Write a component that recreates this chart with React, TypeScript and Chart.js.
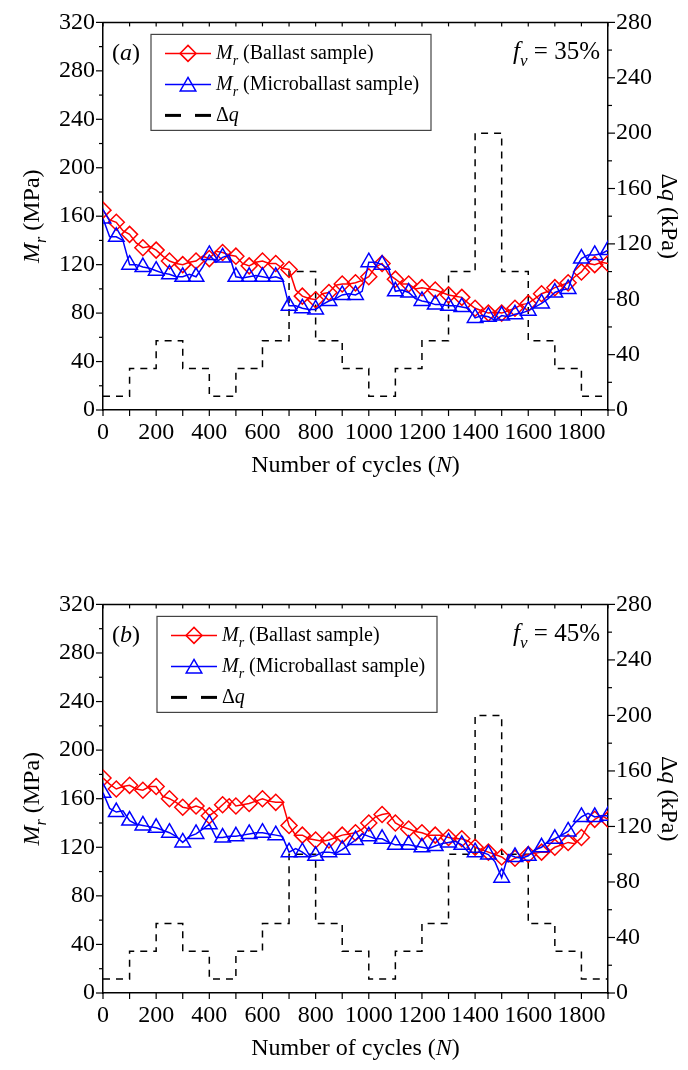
import React, { useEffect, useRef } from "react";
import { Chart, registerables } from "chart.js";

Chart.register(...registerables);

const FONT = "'Liberation Serif', 'Times New Roman', Times, serif";

// ---------- data ----------
const cycles = [
  0, 25, 50, 75, 100, 125, 150, 175, 200, 225,
  250, 275, 300, 325, 350, 375, 400, 425, 450, 475,
  500, 525, 550, 575, 600, 625, 650, 675, 700, 725,
  750, 775, 800, 825, 850, 875, 900, 925, 950, 975,
  1000, 1025, 1050, 1075, 1100, 1125, 1150, 1175, 1200, 1225,
  1250, 1275, 1300, 1325, 1350, 1375, 1400, 1425, 1450, 1475,
  1500, 1525, 1550, 1575, 1600, 1625, 1650, 1675, 1700, 1725,
  1750, 1775, 1800, 1825, 1850, 1875, 1900,
];

const ballastA = [
  165, 157, 155, 148, 145, 138, 134, 135, 132, 127,
  123, 121, 120, 122, 123, 127, 125, 131, 130, 128,
  127, 121, 119, 122, 123, 121, 121, 117, 116, 99,
  94, 92, 91, 96, 97, 103, 104, 104, 105, 107,
  110, 118, 121, 112, 108, 104, 104, 100, 101, 100,
  99, 97, 95, 94, 93, 88, 84, 82, 80, 81,
  80, 82, 84, 87, 88, 92, 96, 98, 101, 103,
  105, 110, 114, 121, 120, 122, 121,
];

const microA = [
  158, 143, 143, 140, 120, 120, 118, 117, 115, 113,
  112, 110, 110, 112, 110, 118, 128, 122, 126, 128,
  110, 109, 110, 111, 110, 109, 110, 108, 86, 86,
  84, 83, 83, 87, 90, 92, 95, 96, 95, 98,
  122, 122, 120, 116, 98, 99, 97, 92, 90, 89,
  87, 87, 86, 86, 85, 84, 76, 78, 77, 74,
  78, 77, 79, 80, 82, 85, 88, 92, 97, 99,
  100, 116, 125, 128, 128, 129, 132,
];

const ballastB = [
  177, 172, 168, 170, 171, 168, 167, 170, 170, 162,
  160, 157, 153, 152, 154, 152, 146, 150, 155, 160,
  154, 155, 156, 158, 160, 158, 157, 157, 138, 130,
  130, 127, 126, 125, 126, 128, 130, 131, 132, 135,
  140, 145, 147, 148, 140, 137, 135, 133, 132, 130,
  130, 130, 128, 127, 127, 125, 120, 118, 116, 114,
  112, 108, 111, 113, 114, 115, 116, 116, 120, 122,
  124, 123, 128, 138, 143, 146, 143,
];

const microB = [
  165, 152, 149, 150, 142, 139, 138, 137, 136, 134,
  132, 129, 124, 129, 131, 135, 139, 128, 128, 129,
  129, 130, 131, 132, 132, 131, 130, 129, 116, 119,
  116, 112, 113, 116, 116, 115, 118, 122, 126, 131,
  129, 127, 127, 124, 122, 122, 122, 121, 120, 119,
  121, 123, 124, 125, 122, 116, 116, 116, 114, 108,
  95, 114, 112, 111, 113, 118, 120, 125, 127, 130,
  133, 140, 145, 148, 145, 146, 146,
];

const dqCycles = [0, 100, 200, 300, 400, 500, 600, 700, 800, 900, 1000, 1100, 1200, 1300, 1400, 1500, 1600, 1700, 1800, 1900];
const dqValues = [10, 30, 50, 30, 10, 30, 50, 100, 50, 30, 10, 30, 50, 100, 200, 100, 50, 30, 10, 10];

const xTickLabels = [0, 200, 400, 600, 800, 1000, 1200, 1400, 1600, 1800];
const leftTicks = [0, 40, 80, 120, 160, 200, 240, 280, 320];
const rightTicks = [0, 40, 80, 120, 160, 200, 240, 280];

// ---------- drawing helpers ----------
type Seg = { t: string; i?: boolean; sub?: boolean };

function segFont(s: Seg, size: number) {
  const sz = s.sub ? Math.round(size * 0.68) : size;
  return `${s.i ? "italic " : ""}${sz}px ${FONT}`;
}

function richWidth(ctx: CanvasRenderingContext2D, segs: Seg[], size: number) {
  let w = 0;
  for (const s of segs) {
    ctx.font = segFont(s, size);
    w += ctx.measureText(s.t).width;
  }
  return w;
}

function drawRich(
  ctx: CanvasRenderingContext2D,
  segs: Seg[],
  x: number,
  y: number,
  size: number,
  align: "left" | "center" | "right"
) {
  const total = richWidth(ctx, segs, size);
  let cx = align === "center" ? x - total / 2 : align === "right" ? x - total : x;
  ctx.textAlign = "left";
  ctx.textBaseline = "middle";
  ctx.fillStyle = "#000";
  for (const s of segs) {
    ctx.font = segFont(s, size);
    ctx.fillText(s.t, cx, s.sub ? y + size * 0.38 : y);
    cx += ctx.measureText(s.t).width;
  }
}

function line(ctx: CanvasRenderingContext2D, x1: number, y1: number, x2: number, y2: number) {
  ctx.beginPath();
  ctx.moveTo(x1, y1);
  ctx.lineTo(x2, y2);
  ctx.stroke();
}

function diamond(ctx: CanvasRenderingContext2D, x: number, y: number, r: number) {
  ctx.beginPath();
  ctx.moveTo(x, y - r);
  ctx.lineTo(x + r, y);
  ctx.lineTo(x, y + r);
  ctx.lineTo(x - r, y);
  ctx.closePath();
  ctx.stroke();
}

function triangle(ctx: CanvasRenderingContext2D, x: number, y: number, r: number) {
  ctx.beginPath();
  let a = 0;
  ctx.moveTo(x + Math.sin(a) * r, y - Math.cos(a) * r);
  a += (2 * Math.PI) / 3;
  ctx.lineTo(x + Math.sin(a) * r, y - Math.cos(a) * r);
  a += (2 * Math.PI) / 3;
  ctx.lineTo(x + Math.sin(a) * r, y - Math.cos(a) * r);
  ctx.closePath();
  ctx.stroke();
}

type PanelMeta = {
  tag: string;
  fv: string;
  legendX: number;
};

function makeDecor(meta: PanelMeta) {
  return {
    id: "decor",
    afterDraw(chart: any) {
      const { ctx, chartArea: a, scales } = chart;
      const xs = scales.x;
      const ys = scales.y;
      const y2s = scales.y2;
      ctx.save();
      ctx.strokeStyle = "#000";
      ctx.setLineDash([]);
      // top border
      ctx.lineWidth = 1.5;
      line(ctx, a.left, a.top, a.right, a.top);
      // ticks
      ctx.lineWidth = 1.2;
      for (let v = 0; v <= 1900; v += 100) {
        const px = xs.getPixelForValue(v);
        line(ctx, px, a.bottom, px, a.bottom + 6);
        line(ctx, px, a.top, px, a.top + 4);
      }
      for (let v = 0; v <= 320; v += 20) {
        const py = ys.getPixelForValue(v);
        line(ctx, a.left - (v % 40 === 0 ? 7 : 4), py, a.left, py);
      }
      for (let v = 0; v <= 280; v += 20) {
        const py = y2s.getPixelForValue(v);
        line(ctx, a.right, py, a.right + (v % 40 === 0 ? 7 : 4), py);
      }

      // axis titles
      const midY = (a.top + a.bottom) / 2;
      drawRich(
        ctx,
        [{ t: "Number of cycles (" }, { t: "N", i: true }, { t: ")" }],
        (a.left + a.right) / 2,
        a.bottom + 56,
        24,
        "center"
      );
      ctx.save();
      ctx.translate(33, midY);
      ctx.rotate(-Math.PI / 2);
      drawRich(ctx, [{ t: "M", i: true }, { t: "r", i: true, sub: true }, { t: " (MPa)" }], 0, 0, 24, "center");
      ctx.restore();
      ctx.save();
      ctx.translate(668, midY);
      ctx.rotate(Math.PI / 2);
      drawRich(ctx, [{ t: "Δ" }, { t: "q", i: true }, { t: " (kPa)" }], 0, 0, 24, "center");
      ctx.restore();

      // panel tag and f_v
      const r1 = a.top + 31;
      const r2 = a.top + 62;
      const r3 = a.top + 93;
      drawRich(ctx, [{ t: "(" }, { t: meta.tag, i: true }, { t: ")" }], 112, r1, 24, "left");
      drawRich(
        ctx,
        [{ t: "f", i: true }, { t: "v", i: true, sub: true }, { t: " = " + meta.fv }],
        a.right - 8,
        r1 - 1,
        25,
        "right"
      );

      // legend box
      const lx = meta.legendX;
      ctx.strokeStyle = "#444";
      ctx.lineWidth = 1.2;
      ctx.strokeRect(lx, a.top + 12, 280, 96);
      const s1 = lx + 14;
      const s2 = lx + 60;
      const sm = (s1 + s2) / 2;
      const tx = lx + 65;
      // row 1 ballast
      ctx.lineWidth = 1.5;
      ctx.strokeStyle = "#ff0000";
      line(ctx, s1, r1, s2, r1);
      diamond(ctx, sm, r1, 8);
      drawRich(ctx, [{ t: "M", i: true }, { t: "r", i: true, sub: true }, { t: " (Ballast sample)" }], tx, r1, 20, "left");
      // row 2 micro
      ctx.strokeStyle = "#0000ff";
      line(ctx, s1, r2, s2, r2);
      triangle(ctx, sm, r2 + 2, 9);
      drawRich(ctx, [{ t: "M", i: true }, { t: "r", i: true, sub: true }, { t: " (Microballast sample)" }], tx, r2, 20, "left");
      // row 3 dq
      ctx.strokeStyle = "#000";
      ctx.lineWidth = 3;
      line(ctx, s1, r3, s1 + 16, r3);
      line(ctx, s1 + 30, r3, s2, r3);
      drawRich(ctx, [{ t: "Δ" }, { t: "q", i: true }], tx, r3, 20, "left");
      ctx.restore();
    },
  };
}

function tickOpts() {
  return {
    font: { family: FONT, size: 24 },
    color: "#000",
    padding: 8,
    callback: (v: any) => String(v),
  };
}

function Panel(props: {
  top: number;
  height: number;
  plotH: number;
  ballast: number[];
  micro: number[];
  meta: PanelMeta;
}) {
  const ref = useRef<HTMLCanvasElement>(null);
  const { top, height, plotH, ballast, micro, meta } = props;

  useEffect(() => {
    if (!ref.current) return;
    const padTop = 18;
    const chart = new Chart(ref.current, {
      type: "line",
      data: {
        datasets: [
          {
            label: "micro",
            data: cycles.map((c, i) => ({ x: c, y: micro[i] })),
            borderColor: "#0000ff",
            borderWidth: 1.5,
            pointStyle: "triangle",
            pointRadius: (c: any) => (c.dataIndex % 2 === 0 ? 9 : 0),
            pointBorderColor: "#0000ff",
            pointBackgroundColor: "rgba(0,0,0,0)",
            pointBorderWidth: 1.5,
            tension: 0,
            yAxisID: "y",
            order: 0,
          } as any,
          {
            label: "ballast",
            data: cycles.map((c, i) => ({ x: c, y: ballast[i] })),
            borderColor: "#ff0000",
            borderWidth: 1.5,
            pointStyle: "rectRot",
            pointRadius: (c: any) => (c.dataIndex % 2 === 0 ? 8 : 0),
            pointBorderColor: "#ff0000",
            pointBackgroundColor: "rgba(0,0,0,0)",
            pointBorderWidth: 1.5,
            tension: 0,
            yAxisID: "y",
            order: 1,
          } as any,
          {
            label: "dq",
            data: dqCycles.map((c, i) => ({ x: c, y: dqValues[i] })),
            borderColor: "#000",
            borderWidth: 1.5,
            borderDash: [7, 6],
            pointRadius: 0,
            stepped: true,
            yAxisID: "y2",
            order: 2,
          } as any,
        ],
      },
      options: {
        animation: false,
        responsive: false,
        events: [],
        layout: { padding: { top: padTop, left: 0, right: 0, bottom: 0 } },
        plugins: { legend: { display: false }, tooltip: { enabled: false } },
        scales: {
          x: {
            type: "linear",
            min: 0,
            max: 1900,
            afterBuildTicks: (s: any) => {
              s.ticks = xTickLabels.map((v) => ({ value: v }));
            },
            afterFit: (s: any) => {
              s.height = height - padTop - plotH;
            },
            grid: { display: false, drawTicks: false },
            border: { display: true, color: "#000", width: 1.5 },
            ticks: { ...tickOpts(), autoSkip: false, maxRotation: 0 },
          },
          y: {
            position: "left",
            min: 0,
            max: 320,
            afterBuildTicks: (s: any) => {
              s.ticks = leftTicks.map((v) => ({ value: v }));
            },
            afterFit: (s: any) => {
              s.width = 103;
            },
            grid: { display: false, drawTicks: false },
            border: { display: true, color: "#000", width: 1.5 },
            ticks: tickOpts(),
          },
          y2: {
            position: "right",
            min: 0,
            max: 280,
            afterBuildTicks: (s: any) => {
              s.ticks = rightTicks.map((v) => ({ value: v }));
            },
            afterFit: (s: any) => {
              s.width = 80;
            },
            grid: { display: false, drawTicks: false },
            border: { display: true, color: "#000", width: 1.5 },
            ticks: tickOpts(),
          },
        },
      } as any,
      plugins: [makeDecor(meta)],
    });
    return () => chart.destroy();
  }, []);

  return (
    <div style={{ position: "absolute", left: 0, top, width: 688, height }}>
      <canvas ref={ref} width={688} height={height} style={{ width: 688, height, display: "block" }} />
    </div>
  );
}

export default function App() {
  return (
    <div style={{ position: "absolute", left: 0, top: 0, width: 688, height: 1070, background: "#fff" }}>
      <Panel top={0} height={490} plotH={392} ballast={ballastA} micro={microA} meta={{ tag: "a", fv: "35%", legendX: 151 }} />
      <Panel top={582} height={488} plotH={393} ballast={ballastB} micro={microB} meta={{ tag: "b", fv: "45%", legendX: 157 }} />
    </div>
  );
}
